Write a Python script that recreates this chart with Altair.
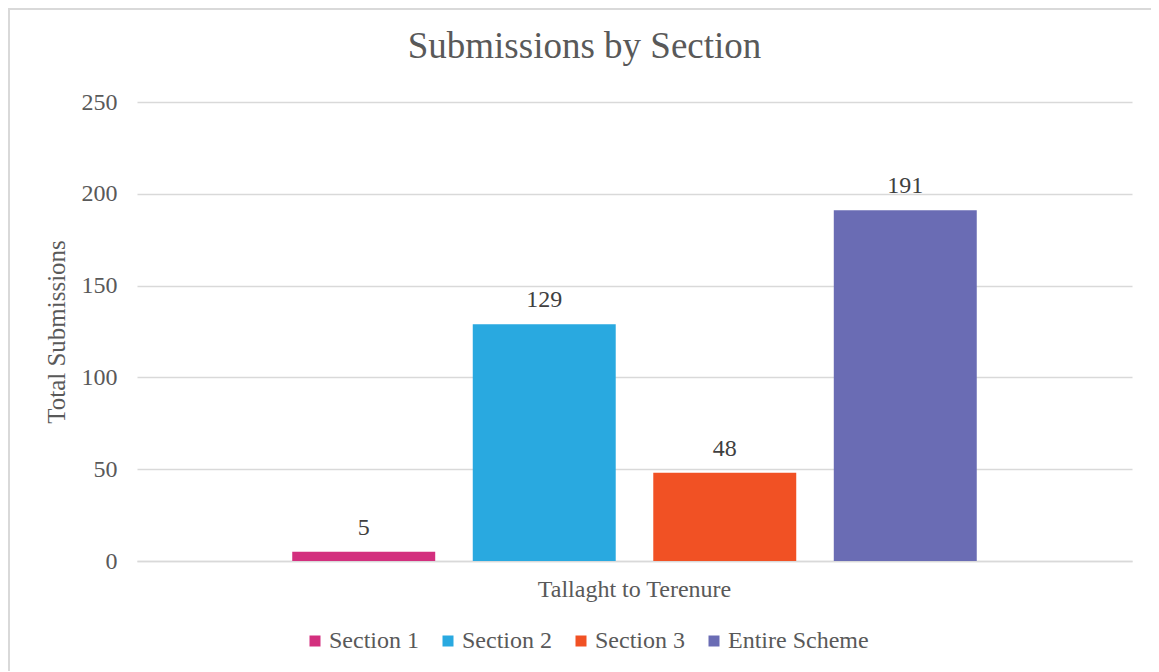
import altair as alt
import pandas as pd

route = "Tallaght to Terenure"
sections = ["Section 1", "Section 2", "Section 3", "Entire Scheme"]
submissions = [5, 129, 48, 191]
colors = ["#D32F7E", "#29A9E0", "#F15124", "#6A6CB4"]
y_ticks = [0, 50, 100, 150, 200, 250]
chart_title = "Submissions by Section"

df = pd.DataFrame({"route": [route] * len(sections), "section": sections, "submissions": submissions})

FONT = "Liberation Serif"
GRAY = "#595959"
GRID = "#D9D9D9"

x = alt.X(
    "route:N", title=None,
    scale=alt.Scale(paddingInner=0, paddingOuter=0.189),
    axis=alt.Axis(labelAngle=0, labelFont=FONT, labelFontSize=24, labelColor=GRAY,
                  labelPadding=16, labelLimit=500, domain=True, domainColor=GRID,
                  domainWidth=1.5, ticks=False, grid=False),
)
xo = alt.XOffset("section:N", sort=sections,
                 scale=alt.Scale(domain=sections, paddingInner=0.208, paddingOuter=0.104))
y = alt.Y(
    "submissions:Q", title="Total Submissions",
    scale=alt.Scale(domain=[0, 250], nice=False),
    axis=alt.Axis(values=y_ticks, labelFont=FONT, labelFontSize=24, labelColor=GRAY,
                  labelPadding=20, domain=False, ticks=False, grid=True, gridColor=GRID,
                  gridWidth=1.5, titleFont=FONT, titleFontSize=25, titleColor=GRAY,
                  titleFontWeight="normal", titlePadding=12),
)

bars = alt.Chart(df).mark_bar().encode(
    x=x, xOffset=xo, y=y,
    color=alt.Color(
        "section:N", sort=sections,
        scale=alt.Scale(domain=sections, range=colors),
        legend=alt.Legend(title=None, orient="none", legendX=166, legendY=527,
                          direction="horizontal", symbolType="square", symbolSize=121,
                          symbolStrokeWidth=0, labelFont=FONT, labelFontSize=24,
                          labelColor=GRAY, columnPadding=17, labelOffset=2, labelLimit=300),
    ),
)

labels = alt.Chart(df).mark_text(baseline="bottom", dy=-12, fontSize=24, font=FONT,
                                 color="#404040").encode(
    x=x, xOffset=xo, y=y, text="submissions:Q"
)

meta = pd.DataFrame({"t": [chart_title]})

border = alt.Chart(meta).mark_rect(
    fill="transparent", stroke=GRID, strokeWidth=2
).encode(x=alt.value(-128), x2=alt.value(1100), y=alt.value(-93), y2=alt.value(700))

title = alt.Chart(meta).mark_text(
    font=FONT, fontSize=37, color=GRAY, align="center", baseline="alphabetic"
).encode(x=alt.value(447.5), y=alt.value(-44), text="t:N")

chart = alt.layer(border, bars, labels, title).properties(
    width=995, height=459,
    autosize=alt.AutoSizeParams(type="none"),
    padding={"left": 129, "top": 94, "right": 19, "bottom": 110},
).configure_view(stroke=None)

chart.save("out.html", embed_options={"renderer": "svg", "actions": False})
